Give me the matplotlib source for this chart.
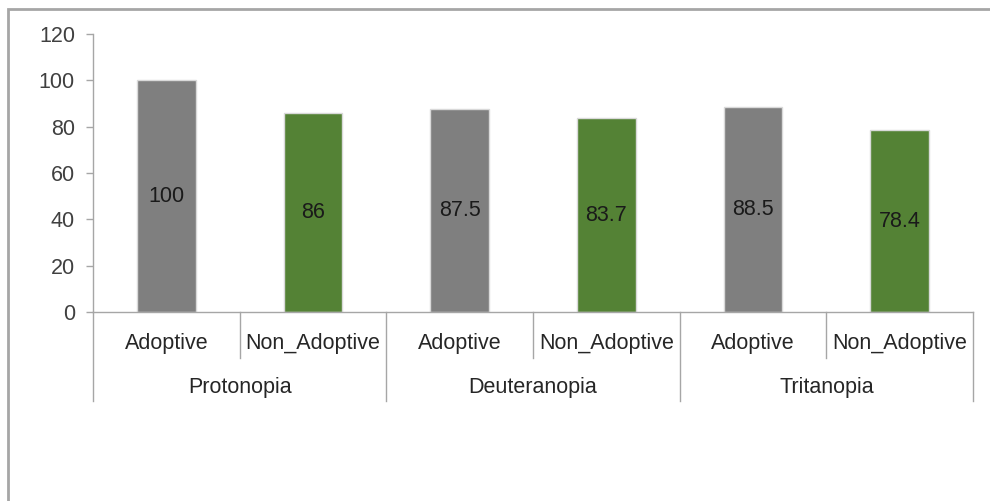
import matplotlib
matplotlib.use("Agg")
import matplotlib.pyplot as plt
import matplotlib.transforms as mtransforms
from matplotlib.patches import Rectangle

# accuracy per color-blindness type, adaptive vs non-adaptive
groups = ["Protonopia", "Deuteranopia", "Tritanopia"]
methods = ["Adoptive", "Non_Adoptive"]
values = [100, 86, 87.5, 83.7, 88.5, 78.4]
bar_colors = ["#7f7f7f", "#548235"]
yticks = [0, 20, 40, 60, 80, 100, 120]

plt.rcParams["font.family"] = ["Liberation Sans", "DejaVu Sans"]
FS = 15.5

fig = plt.figure(figsize=(9.9, 5.01), dpi=100)
ax = fig.add_axes([0.0939, 0.3772, 0.983 - 0.0939, 0.9321 - 0.3772])

# chart-area frame (left and top edges show)
fig.patches.append(Rectangle((0.008, -0.1), 1.2, 1.082, transform=fig.transFigure,
                             fill=False, edgecolor="#a6a6a6", linewidth=2))

n = len(values)
xs = list(range(n))
colors = [bar_colors[i % 2] for i in xs]
bars = ax.bar(xs, values, width=0.4, color=colors, edgecolor="#d9d9d9", linewidth=1)
for x, v in zip(xs, values):
    ax.text(x, v / 2, f"{v:g}", ha="center", va="center", fontsize=FS, color="#1a1a1a")

ax.set_xlim(-0.5, n - 0.5)
ax.set_ylim(0, 120)
ax.set_yticks(yticks)
ax.tick_params(axis="y", labelsize=FS, labelcolor="#404040", color="#a6a6a6",
               length=5, width=1, pad=8)
ax.set_xticks([])
for side in ("top", "right"):
    ax.spines[side].set_visible(False)
for side in ("left", "bottom"):
    ax.spines[side].set_color("#a6a6a6")
    ax.spines[side].set_linewidth(1)

# two-level category axis below the bars
trans = mtransforms.blended_transform_factory(ax.transData, ax.transAxes)
for i, x in enumerate(xs):
    ax.text(x, -0.112, methods[i % 2], transform=trans, ha="center", va="center",
            fontsize=FS, color="#262626")
for g, name in enumerate(groups):
    ax.text(2 * g + 0.5, -0.27, name, transform=trans, ha="center", va="center",
            fontsize=FS, color="#262626")
for k in range(n + 1):
    edge = k - 0.5
    bottom = -0.32 if k % 2 == 0 else -0.1655
    ax.plot([edge, edge], [0, bottom], transform=trans, color="#a6a6a6",
            linewidth=1, clip_on=False)

fig.savefig("out.png", dpi=100)
